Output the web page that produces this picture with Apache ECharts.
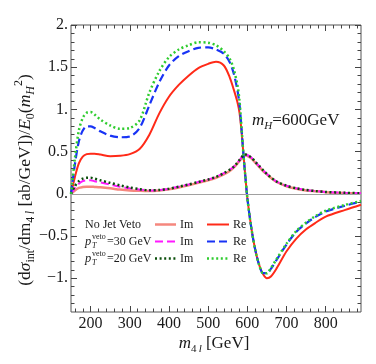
<!DOCTYPE html>
<html><head><meta charset="utf-8">
<script src="https://cdn.jsdelivr.net/npm/echarts@6/dist/echarts.min.js"></script>
<style>html,body{margin:0;padding:0;background:#fff}#c{width:376px;height:364px}</style>
</head><body><div id="c"></div>
<script>
// ---- data ----
const mass = [150,160,170,180,190,200,210,225,250,275,300,325,350,375,400,425,450,475,500,520,540,555,565,575,580,585,590,595,600,610,620,630,640,650,660,675,700,725,750,775,800,850,890];
const noVetoRe = [0,0.2,0.36,0.44,0.47,0.475,0.475,0.465,0.445,0.45,0.47,0.53,0.70,0.95,1.15,1.29,1.40,1.49,1.54,1.565,1.52,1.38,1.24,1.08,0.96,0.75,0.47,0.2,-0.05,-0.4,-0.66,-0.84,-0.95,-1.0,-0.98,-0.88,-0.68,-0.53,-0.42,-0.34,-0.27,-0.19,-0.13];
const veto30Re = [0,0.35,0.62,0.75,0.80,0.80,0.78,0.74,0.69,0.67,0.68,0.78,1.05,1.32,1.52,1.63,1.69,1.73,1.735,1.71,1.66,1.56,1.43,1.22,1.06,0.78,0.47,0.2,-0.05,-0.4,-0.66,-0.84,-0.94,-0.94,-0.89,-0.78,-0.60,-0.45,-0.35,-0.27,-0.21,-0.14,-0.09];
const veto20Re = [0,0.42,0.75,0.90,0.96,0.97,0.94,0.88,0.81,0.77,0.78,0.87,1.20,1.45,1.62,1.71,1.76,1.795,1.79,1.76,1.69,1.60,1.48,1.28,1.1,0.79,0.47,0.2,-0.05,-0.4,-0.66,-0.84,-0.94,-0.94,-0.88,-0.77,-0.59,-0.44,-0.34,-0.26,-0.20,-0.13,-0.085];
const noVetoIm = [0,0.04,0.07,0.08,0.085,0.085,0.082,0.077,0.065,0.05,0.04,0.035,0.033,0.04,0.055,0.075,0.10,0.13,0.16,0.19,0.23,0.27,0.31,0.36,0.39,0.42,0.45,0.455,0.45,0.42,0.37,0.32,0.27,0.23,0.19,0.14,0.09,0.06,0.04,0.03,0.02,0.01,0.005];
const veto30Im = [0,0.07,0.12,0.15,0.16,0.16,0.15,0.135,0.11,0.085,0.065,0.05,0.04,0.045,0.06,0.085,0.11,0.14,0.17,0.20,0.245,0.285,0.32,0.37,0.40,0.43,0.46,0.465,0.46,0.43,0.38,0.33,0.28,0.235,0.195,0.145,0.095,0.065,0.045,0.032,0.022,0.012,0.006];
const veto20Im = [0,0.09,0.15,0.18,0.19,0.19,0.18,0.16,0.13,0.10,0.075,0.055,0.042,0.045,0.06,0.085,0.11,0.14,0.17,0.20,0.245,0.285,0.32,0.37,0.40,0.43,0.46,0.465,0.46,0.43,0.38,0.33,0.28,0.235,0.195,0.145,0.095,0.065,0.045,0.032,0.022,0.012,0.006];

const xMajorTicks = [200,300,400,500,600,700,800];
const xMinorTicks = [160,180,220,240,260,280,320,340,360,380,420,440,460,480,520,540,560,580,620,640,660,680,720,740,760,780,820,840,860,880];
const yMajorTicks = [-1,-0.5,0,0.5,1,1.5,2];
const yTickLabels = ['\u22121.','\u22120.5','0.','0.5','1.','1.5','2.'];
const yMinorTicks = [-1.3,-1.2,-1.1,-0.9,-0.8,-0.7,-0.6,-0.4,-0.3,-0.2,-0.1,0.1,0.2,0.3,0.4,0.6,0.7,0.8,0.9,1.1,1.2,1.3,1.4,1.6,1.7,1.8,1.9];

// ---- styling ----
const SERIF = 'Liberation Serif';
const X_MIN = 150, X_MAX = 890, Y_MIN = -1.4, Y_MAX = 2.0;
const tickColor = '#444';

function xAx(pos, ticks, len, withLabels) {
  return {
    type: 'value', position: pos, min: X_MIN, max: X_MAX,
    axisLine: {show: false, onZero: false},
    splitLine: {show: false},
    axisTick: {show: true, inside: true, length: len, customValues: ticks, lineStyle: {color: tickColor, width: 1}},
    axisLabel: withLabels ? {show: true, customValues: xMajorTicks, fontFamily: SERIF, fontSize: 16, color: '#1a1a1a', margin: 4,
      formatter: v => String(v)} : {show: false}
  };
}
function yAx(pos, ticks, len, withLabels) {
  return {
    type: 'value', position: pos, min: Y_MIN, max: Y_MAX,
    axisLine: {show: false, onZero: false},
    splitLine: {show: false},
    axisTick: {show: true, inside: true, length: len, customValues: ticks, lineStyle: {color: tickColor, width: 1}},
    axisLabel: withLabels ? {show: true, customValues: yMajorTicks, fontFamily: SERIF, fontSize: 16, color: '#1a1a1a', margin: 3,
      formatter: v => { const i = yMajorTicks.findIndex(t => Math.abs(t - v) < 1e-6); return i >= 0 ? yTickLabels[i] : ''; }} : {show: false}
  };
}

function mk(name, vals, color, width, dash) {
  return {
    name, type: 'line', xAxisIndex: 0, yAxisIndex: 0,
    data: mass.map((m, i) => [m, vals[i]]),
    smooth: 0.3, showSymbol: false, symbol: 'none', clip: true,
    lineStyle: {color, width, type: dash || 'solid', cap: 'butt'},
    emphasis: {disabled: true}, silent: true
  };
}

const C = {
  salmon: '#f5877e', red: '#ff2a18', magenta: '#ff19ff', blue: '#1833f5', dgreen: '#0b4f0b', green: '#2fcc2f'
};
const DASH = [8, 4], DOT = [2, 2.6];

const series = [
  mk('noVetoIm', noVetoIm, C.salmon, 2.5),
  mk('noVetoRe', noVetoRe, C.red, 2),
  mk('veto30Im', veto30Im, C.magenta, 2, DASH),
  mk('veto30Re', veto30Re, C.blue, 2.2, DASH),
  mk('veto20Im', veto20Im, C.dgreen, 2.5, DOT),
  mk('veto20Re', veto20Re, C.green, 2.5, DOT)
];
series[0].markLine = {
  silent: true, symbol: 'none', label: {show: false},
  lineStyle: {color: '#a0a0a0', width: 1, type: 'solid'},
  data: [{yAxis: 0}]
};
series[0].z = 1;

// ---- text & legend graphics ----
const g = [];
function txt(x, y, text, rich, extra) {
  g.push(Object.assign({type: 'text', x, y, silent: true,
    style: Object.assign({text, rich, fontFamily: SERIF, fill: '#1a1a1a', align: 'left', verticalAlign: 'middle'}, extra && extra.style || {})},
    extra && extra.el || {}));
}
// x-axis title
txt(214, 344, '{i|m}{s|4\u2009}{si|l}{n| [GeV]}', {
  i: {fontFamily: SERIF, fontStyle: 'italic', fontSize: 17, lineHeight: 22, verticalAlign: 'middle'},
  n: {fontFamily: SERIF, fontSize: 17, lineHeight: 22, verticalAlign: 'middle'},
  s: {fontFamily: SERIF, fontSize: 11, lineHeight: 11, verticalAlign: 'bottom'},
  si: {fontFamily: SERIF, fontSize: 11, lineHeight: 11, fontStyle: 'italic', verticalAlign: 'bottom'}
}, {style: {align: 'center'}});
// y-axis title
txt(25, 180, '{n|(d}{i|\u03c3}{s|int}{n|/dm}{s|4\u2009}{si|l}{n| [ab/GeV])/}{i|E}{s|0}{n|(}{i|m}{si|H}{sp|2}{n|)}', {
  i: {fontFamily: SERIF, fontStyle: 'italic', fontSize: 17.5, lineHeight: 24, verticalAlign: 'middle'},
  n: {fontFamily: SERIF, fontSize: 17.5, lineHeight: 24, verticalAlign: 'middle'},
  s: {fontFamily: SERIF, fontSize: 12, lineHeight: 12, verticalAlign: 'bottom'},
  si: {fontFamily: SERIF, fontSize: 12, lineHeight: 12, fontStyle: 'italic', verticalAlign: 'bottom'},
  sp: {fontFamily: SERIF, fontSize: 12, lineHeight: 12, verticalAlign: 'top'}
}, {style: {align: 'center'}, el: {rotation: Math.PI / 2}});
// m_H label
txt(252, 121, '{i|m}{si|H}{n|=600GeV}', {
  i: {fontFamily: SERIF, fontStyle: 'italic', fontSize: 17, lineHeight: 22, verticalAlign: 'middle'},
  n: {fontFamily: SERIF, fontSize: 17, lineHeight: 22, verticalAlign: 'middle'},
  si: {fontFamily: SERIF, fontSize: 11, lineHeight: 11, fontStyle: 'italic', verticalAlign: 'bottom'}
});
// legend
const rows = [224.5, 241.5, 258.5];
txt(85, rows[0], 'No Jet Veto', null, {style: {fontSize: 12}});
[['=30 GeV', rows[1]], ['=20 GeV', rows[2]]].forEach(([t, y]) => {
  txt(85, y, 'p', null, {style: {fontSize: 12.5, fontStyle: 'italic'}});
  txt(92, y - 5, 'veto', null, {style: {fontSize: 8}});
  txt(92, y + 4, 'T', null, {style: {fontSize: 8, fontStyle: 'italic'}});
  txt(107, y, t, null, {style: {fontSize: 12}});
});
const legendLines = [
  [C.salmon, 2.5, null, C.red, 2, null],
  [C.magenta, 2, DASH, C.blue, 2.2, DASH],
  [C.dgreen, 2.5, DOT, C.green, 2.5, DOT]
];
legendLines.forEach((L, r) => {
  const y = rows[r];
  g.push({type: 'line', silent: true, shape: {x1: 155, y1: y, x2: 176, y2: y}, style: {stroke: L[0], lineWidth: L[1], lineDash: L[2] || null}});
  txt(180, y, 'Im', null, {style: {fontSize: 12}});
  g.push({type: 'line', silent: true, shape: {x1: 207, y1: y, x2: 229, y2: y}, style: {stroke: L[3], lineWidth: L[4], lineDash: L[5] || null}});
  txt(233, y, 'Re', null, {style: {fontSize: 12}});
});

const chart = echarts.init(document.getElementById('c'), null, {renderer: 'canvas'});
chart.setOption({
  animation: false,
  backgroundColor: '#fff',
  grid: {left: 71, right: 15, top: 25, bottom: 52, show: true, borderColor: '#555', borderWidth: 1, backgroundColor: 'transparent', containLabel: false, outerBoundsMode: 'none'},
  xAxis: [xAx('bottom', xMajorTicks, 6, true), xAx('bottom', xMinorTicks, 3.5, false), xAx('top', xMajorTicks, 6, false), xAx('top', xMinorTicks, 3.5, false)],
  yAxis: [yAx('left', yMajorTicks, 6, true), yAx('left', yMinorTicks, 3.5, false), yAx('right', yMajorTicks, 6, false), yAx('right', yMinorTicks, 3.5, false)],
  series,
  graphic: g
});
</script>
</body></html>
